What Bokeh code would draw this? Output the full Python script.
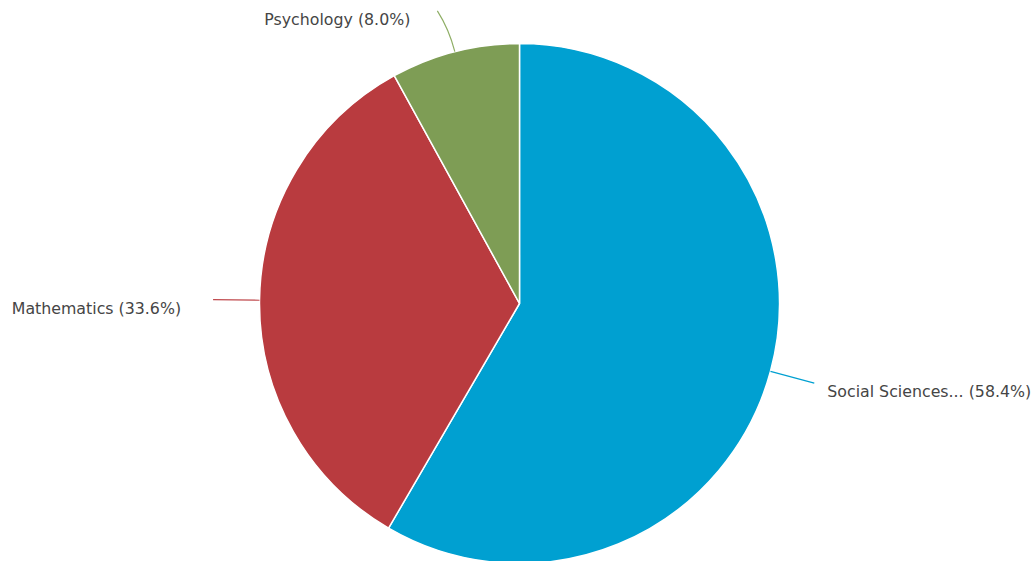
import math
from bokeh.plotting import figure
from bokeh.models import Range1d, ColumnDataSource
from bokeh.core.properties import value
from bokeh.embed import file_html
from bokeh.resources import INLINE

categories = ["Social Sciences...", "Mathematics", "Psychology"]
shares = [58.4, 33.6, 8.0]
colors = ["#00A0D1", "#B93B3F", "#7E9D55"]
line_colors = ["#00A0D1", "#C04A4E", "#8FAE66"]

W, H = 1034, 561
cx, cy, R = 519, H - 303, 260
total = sum(shares)

starts, ends, mids = [], [], []
cum = 0.0
for s in shares:
    a0 = math.pi / 2 - cum / total * 2 * math.pi
    cum += s
    a1 = math.pi / 2 - cum / total * 2 * math.pi
    starts.append(a0)
    ends.append(a1)
    mids.append((a0 + a1) / 2)

p = figure(width=W, height=H, output_backend="svg", toolbar_location=None,
           x_range=Range1d(0, W), y_range=Range1d(0, H),
           x_axis_location=None, y_axis_location=None, min_border=0)
p.outline_line_color = None
p.xgrid.visible = False
p.ygrid.visible = False
p.background_fill_color = "white"
p.border_fill_color = "white"

src = ColumnDataSource(dict(start=starts, end=ends, color=colors))
p.wedge(x=cx, y=cy, radius=R, start_angle="start", end_angle="end",
        direction="clock", fill_color="color", line_color="white",
        line_width=1.5, source=src)

# leader lines and labels
for cat, s, m, lc in zip(categories, shares, mids, line_colors):
    ux, uy = math.cos(m), math.sin(m)
    L = 46.5 - 4.5 * abs(uy)
    x0, y0 = cx + R * ux, cy + R * uy
    right = ux >= 0
    side = 1 if right else -1
    x1 = cx + (R + L) * ux + (0 if abs(uy) < 0.9 else side * 7)
    y1 = cy + (R + L) * uy
    qx = cx + (R + L * 0.55) * ux
    qy = cy + (R + L * 0.55) * uy
    p.quadratic(x0=[x0], y0=[y0], x1=[x1], y1=[y1], cx=[qx], cy=[qy],
                line_color=lc, line_width=1.2)
    label = f"{cat} ({s:.1f}%)"
    if right:
        tx, align = x1 + 13, "left"
    else:
        tx, align = x1 - (27 if abs(uy) > 0.9 else 32), "right"
    ty = y1 - 8.5
    p.text(x=[tx], y=[ty], text=[label], text_align=align,
           text_baseline="middle", text_font=value("DejaVu Sans"),
           text_font_size="15.8px", text_color="#454545")

open("out.html", "w").write(file_html(p, INLINE))
